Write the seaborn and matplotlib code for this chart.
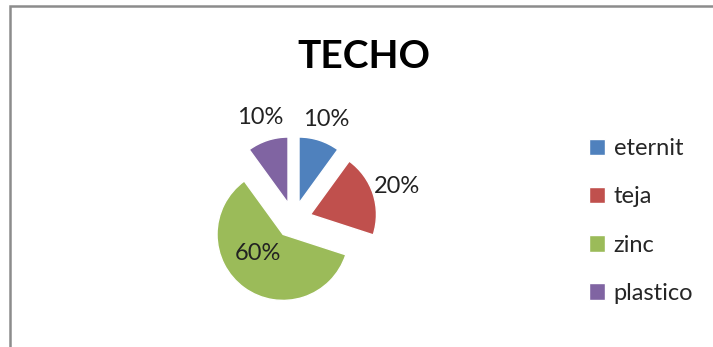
import matplotlib
matplotlib.use("Agg")
import matplotlib.pyplot as plt
import seaborn as sns
import numpy as np
from matplotlib.patches import Rectangle

# Datos del grafico
categorias = ["eternit", "teja", "zinc", "plastico"]
porcentajes = [10, 20, 60, 10]
titulo = "TECHO"

sns.set_theme(style="white")
plt.rcParams["font.family"] = ["Lato", "DejaVu Sans"]

colores = sns.color_palette(["#4F81BD", "#C0504D", "#9BBB59", "#8064A2"])
separacion = [0.27, 0.27, 0.27, 0.27]
dist_etiqueta = [1.33, 1.38, 0.47, 1.36]
giro_etiqueta = [0, 0, -17, 0]  # extra degrees for label placement

fig = plt.figure(figsize=(7.13, 3.47), dpi=100)
fig.patch.set_facecolor("white")

# pie axes: center at (293.5, 220) px, radius 66 px
ax = fig.add_axes([0.2728, 0.0807, 0.2777, 0.5706])
wedges, texts, autotexts = ax.pie(
    porcentajes, colors=colores, startangle=90, counterclock=False,
    explode=separacion, autopct="%d%%", pctdistance=0.5,
    textprops={"fontsize": 17, "color": "#222222"},
)
ax.set_xlim(-1.5, 1.5)
ax.set_ylim(-1.5, 1.5)
ax.set_aspect("equal")
ax.axis("off")

# move percentage labels along each slice's middle angle
for w, t, d, g in zip(wedges, autotexts, dist_etiqueta, giro_etiqueta):
    ang = np.deg2rad((w.theta1 + w.theta2) / 2 + g)
    cx, cy = w.center
    t.set_position((cx + d * np.cos(ang), cy + d * np.sin(ang)))
    t.set_ha("center")
    t.set_va("center")

fig.text(0.511, 0.838, titulo, ha="center", va="center",
         fontsize=28, fontweight="bold", color="black")

fig.legend(wedges, categorias, loc="center left",
           bbox_to_anchor=(0.826, 0.363), frameon=False,
           fontsize=17, handlelength=0.7, handleheight=0.7,
           handletextpad=0.35, labelspacing=1.15, borderaxespad=0,
           borderpad=0)

# chart border (right and bottom are cut off in the reference)
fig.patches.append(Rectangle((9.5 / 713, -0.1), 1.2, (347 - 6.5) / 347 + 0.1,
                             transform=fig.transFigure, fill=False,
                             edgecolor="#8c8c8c", linewidth=1.8))

fig.savefig("out.png", dpi=100)
